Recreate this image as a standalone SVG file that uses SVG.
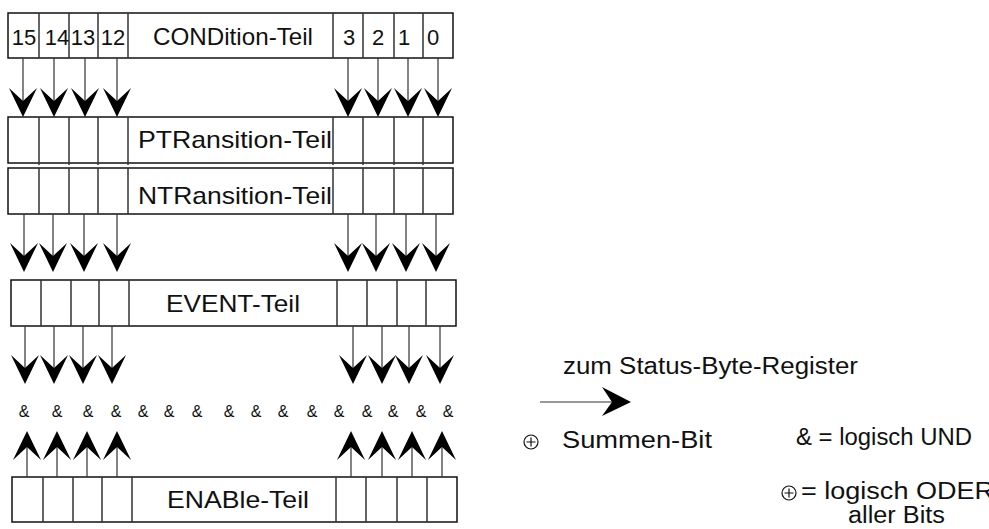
<svg xmlns="http://www.w3.org/2000/svg" width="989" height="529" viewBox="0 0 989 529">
<style>
.box{fill:#fff;stroke:#111;stroke-width:1.5}
.div{stroke:#333;stroke-width:1.5}
.ln{stroke:#333;stroke-width:1.2;fill:none}
.hd{fill:#000}
.t{font-family:"Liberation Sans",Arial,sans-serif;font-size:24px;fill:#111}
.s{font-family:"Liberation Sans",Arial,sans-serif;font-size:23px;fill:#111}
.d{font-family:"Liberation Sans",Arial,sans-serif;font-size:22px;fill:#111;text-anchor:middle}
.a{font-family:"Liberation Sans",Arial,sans-serif;font-size:16px;fill:#111;text-anchor:middle}
.sym{fill:none;stroke:#111;stroke-width:1.2}
</style>
<defs>
<path id="dn" class="hd" d="M-14,-29 L0,-16 L14,-29 L0,0 Z"/>
<path id="up" class="hd" d="M-14,29 L0,16 L14,29 L0,0 Z"/>
</defs>

<g id="condition">
<rect class="box" x="8" y="13" width="445" height="45"/>
<path class="div" d="M39,13V58M69,13V58M98,13V58M128,13V58M333,13V58M363,13V58M394,13V58M423,13V58"/>
<text class="d" x="24" y="45">15</text>
<text class="d" x="57" y="45">14</text>
<text class="d" x="83" y="45">13</text>
<text class="d" x="113" y="45">12</text>
<text class="t" x="153" y="45" textLength="160" lengthAdjust="spacingAndGlyphs">CONDition-Teil</text>
<text class="d" x="349" y="45">3</text>
<text class="d" x="378" y="45">2</text>
<text class="d" x="404" y="45">1</text>
<text class="d" x="433" y="45">0</text>
</g>

<g id="ptransition">
<rect class="box" x="8" y="117" width="445" height="46"/>
<path class="div" d="M39,117V165M69,117V165M98,117V165M128,117V165M333,117V165M363,117V165M394,117V165M423,117V165"/>
<text class="t" x="138" y="148" textLength="194" lengthAdjust="spacingAndGlyphs">PTRansition-Teil</text>
</g>

<g id="ntransition">
<rect class="box" x="8" y="168" width="445" height="46"/>
<path class="div" d="M39,168V214M69,168V214M98,168V214M128,168V214M333,168V214M363,168V214M394,168V214M423,168V214"/>
<text class="t" x="138" y="204" textLength="194" lengthAdjust="spacingAndGlyphs">NTRansition-Teil</text>
</g>

<g id="event">
<rect class="box" x="11" y="280" width="445" height="46"/>
<path class="div" d="M41,280V326M71,280V326M99,280V326M129,280V326M337,280V326M367,280V326M397,280V326M426,280V326"/>
<text class="t" x="166" y="312" textLength="134" lengthAdjust="spacingAndGlyphs">EVENT-Teil</text>
</g>

<g id="enable">
<rect class="box" x="12" y="477" width="445" height="45"/>
<path class="div" d="M43,477V522M73,477V522M102,477V522M132,477V522M336,477V522M366,477V522M397,477V522M427,477V522"/>
<text class="t" x="167" y="508" textLength="142" lengthAdjust="spacingAndGlyphs">ENABle-Teil</text>
</g>

<g id="and-row">
<text class="a" x="24" y="417">&amp;</text>
<text class="a" x="57" y="417">&amp;</text>
<text class="a" x="88" y="417">&amp;</text>
<text class="a" x="116" y="417">&amp;</text>
<text class="a" x="143" y="417">&amp;</text>
<text class="a" x="169" y="417">&amp;</text>
<text class="a" x="197" y="417">&amp;</text>
<text class="a" x="229" y="417">&amp;</text>
<text class="a" x="256" y="417">&amp;</text>
<text class="a" x="283" y="417">&amp;</text>
<text class="a" x="312" y="417">&amp;</text>
<text class="a" x="339" y="417">&amp;</text>
<text class="a" x="367" y="417">&amp;</text>
<text class="a" x="393" y="417">&amp;</text>
<text class="a" x="421" y="417">&amp;</text>
<text class="a" x="448" y="417">&amp;</text>
</g>

<g id="legend">
<text class="s" x="563" y="374" textLength="295" lengthAdjust="spacingAndGlyphs">zum Status-Byte-Register</text>
<circle class="sym" cx="531" cy="442" r="7"/>
<path class="sym" d="M526.5,442H535.5M531,437.5V446.5"/>
<text class="s" x="562" y="448" textLength="150" lengthAdjust="spacingAndGlyphs">Summen-Bit</text>
<text class="s" x="796" y="445" textLength="176" lengthAdjust="spacingAndGlyphs">&amp; = logisch UND</text>
<circle class="sym" cx="789" cy="493" r="7"/>
<path class="sym" d="M784.5,493H793.5M789,488.5V497.5"/>
<text class="s" x="801" y="499" textLength="193" lengthAdjust="spacingAndGlyphs">= logisch ODER</text>
<text class="s" x="848" y="523" textLength="97" lengthAdjust="spacingAndGlyphs">aller Bits</text>
</g>

<g id="connectors">
<path class="ln" d="M23,58V110M54,58V110M85,58V110M117,58V110M348,58V110M378,58V110M408,58V110M438,58V110"/>
<use href="#dn" x="23" y="117"/><use href="#dn" x="54" y="117"/><use href="#dn" x="85" y="117"/><use href="#dn" x="117" y="117"/>
<use href="#dn" x="348" y="117"/><use href="#dn" x="378" y="117"/><use href="#dn" x="408" y="117"/><use href="#dn" x="438" y="117"/>
<path class="ln" d="M24,214V265M53,214V265M84,214V265M117,214V265M348,214V265M376,214V265M406,214V265M436,214V265"/>
<use href="#dn" x="24" y="272"/><use href="#dn" x="53" y="272"/><use href="#dn" x="84" y="272"/><use href="#dn" x="117" y="272"/>
<use href="#dn" x="348" y="272"/><use href="#dn" x="376" y="272"/><use href="#dn" x="406" y="272"/><use href="#dn" x="436" y="272"/>
<path class="ln" d="M25,326V377M54,326V377M83,326V377M112,326V377M353,326V377M382,326V377M409,326V377M440,326V377"/>
<use href="#dn" x="25" y="384"/><use href="#dn" x="54" y="384"/><use href="#dn" x="83" y="384"/><use href="#dn" x="112" y="384"/>
<use href="#dn" x="353" y="384"/><use href="#dn" x="382" y="384"/><use href="#dn" x="409" y="384"/><use href="#dn" x="440" y="384"/>
<path class="ln" d="M27,477V438M57,477V438M87,477V438M117,477V438M351,477V438M382,477V438M412,477V438M442,477V438"/>
<use href="#up" x="27" y="431"/><use href="#up" x="57" y="431"/><use href="#up" x="87" y="431"/><use href="#up" x="117" y="431"/>
<use href="#up" x="351" y="431"/><use href="#up" x="382" y="431"/><use href="#up" x="412" y="431"/><use href="#up" x="442" y="431"/>
<path class="ln" d="M540,402H620"/>
<path class="hd" d="M602,387L631,402L602,416L612,402Z"/>
</g>
</svg>
